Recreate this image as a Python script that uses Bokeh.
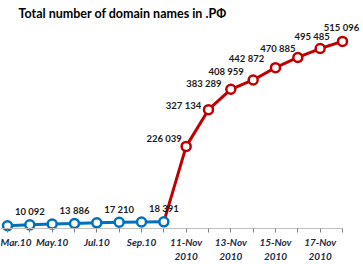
from bokeh.plotting import figure
from bokeh.models import ColumnDataSource, LabelSet, Label, FixedTicker, Range1d
from bokeh.core.properties import value
from bokeh.embed import file_html
from bokeh.resources import INLINE

# ---- data ----
months = ["Mar.10", "Apr.10", "May.10", "Jun.10", "Jul.10", "Aug.10", "Sep.10", "Oct.10"]
monthly_totals = [7500, 10092, 12100, 13886, 15600, 17210, 17950, 18391]
monthly_labeled = [False, True, False, True, False, True, False, True]

days = ["11-Nov\n2010", "12-Nov\n2010", "13-Nov\n2010", "14-Nov\n2010",
        "15-Nov\n2010", "16-Nov\n2010", "17-Nov\n2010", "18-Nov\n2010"]
daily_totals = [226039, 327134, 383289, 408959, 442872, 470885, 495485, 515096]

title_text = "Total number of domain names in .РФ"

# ---- styling ----
BLUE = "#0070C0"
RED = "#C00000"
LABEL_COLOR = "#1a1a1a"
AXIS_TEXT = "#1c2a44"
FONT = "Lato"

categories = months + days
n_m = len(months)
xm = list(range(n_m))
xd = list(range(n_m, n_m + len(days)))

def fmt(v):
    return f"{v:,}".replace(",", " ")

# label offsets (pixels) for daily labels, placed left/up of points
day_dx = [-22, -25, -27, -27, -29, -20, -8, -1]
day_dy = [8, 4, 6, 8, 9, 9, 12, 14]

p = figure(width=363, height=264, output_backend="svg", toolbar_location=None,
           x_range=Range1d(-0.313, 15.94), y_range=Range1d(-99100, 627700),
           min_border=0, y_axis_location=None, background_fill_color="white")
p.xgrid.visible = False
p.ygrid.visible = False
p.outline_line_color = None

ax = p.xaxis[0]
ax.fixed_location = 0
ax.bounds = (-1, len(categories) - 1)
ax.ticker = FixedTicker(ticks=list(range(len(categories))))
ax.major_label_overrides = {i: (c if i % 2 == 0 else "") for i, c in enumerate(categories)}
ax.axis_line_color = "#bfbfbf"
ax.axis_line_width = 1
ax.major_tick_line_color = "#808080"
ax.major_tick_in = 0
ax.major_tick_out = 4
ax.minor_tick_line_color = None
ax.major_label_text_font = FONT
ax.major_label_text_font_style = "bold italic"
ax.major_label_text_font_size = "10px"
ax.major_label_text_color = AXIS_TEXT
ax.major_label_standoff = 3

# red line (from last monthly point through daily points)
red_x = [xm[-1]] + xd
red_y = [monthly_totals[-1]] + daily_totals
p.line(red_x, red_y, line_color=RED, line_width=3)
p.line(xm, monthly_totals, line_color=BLUE, line_width=3)
p.scatter(xd, daily_totals, size=9, marker="circle", fill_color="white", line_color=RED, line_width=2.5)
p.scatter(xm, monthly_totals, size=9, marker="circle", fill_color="white", line_color=BLUE, line_width=2.5)

msrc = ColumnDataSource(dict(x=xm, y=monthly_totals,
                             t=[fmt(v) if f else "" for v, f in zip(monthly_totals, monthly_labeled)]))
p.add_layout(LabelSet(x="x", y="y", text="t", source=msrc, x_offset=0, y_offset=13,
                      text_align="center", text_baseline="middle",
                      text_font=value(FONT), text_font_style="bold", text_font_size="9.5px",
                      text_color=LABEL_COLOR))

dsrc = ColumnDataSource(dict(x=xd, y=daily_totals, t=[fmt(v) for v in daily_totals],
                             dx=day_dx, dy=day_dy))
p.add_layout(LabelSet(x="x", y="y", text="t", source=dsrc, x_offset="dx", y_offset="dy",
                      text_align="center", text_baseline="middle",
                      text_font=value(FONT), text_font_style="bold", text_font_size="9.5px",
                      text_color=LABEL_COLOR))

p.add_layout(Label(x=18, y=251, x_units="screen", y_units="screen", text=title_text,
                   text_font=FONT, text_font_style="bold", text_font_size="12.5px",
                   text_color="black", text_baseline="middle", text_align="left"))

open("out.html", "w").write(file_html(p, INLINE))
